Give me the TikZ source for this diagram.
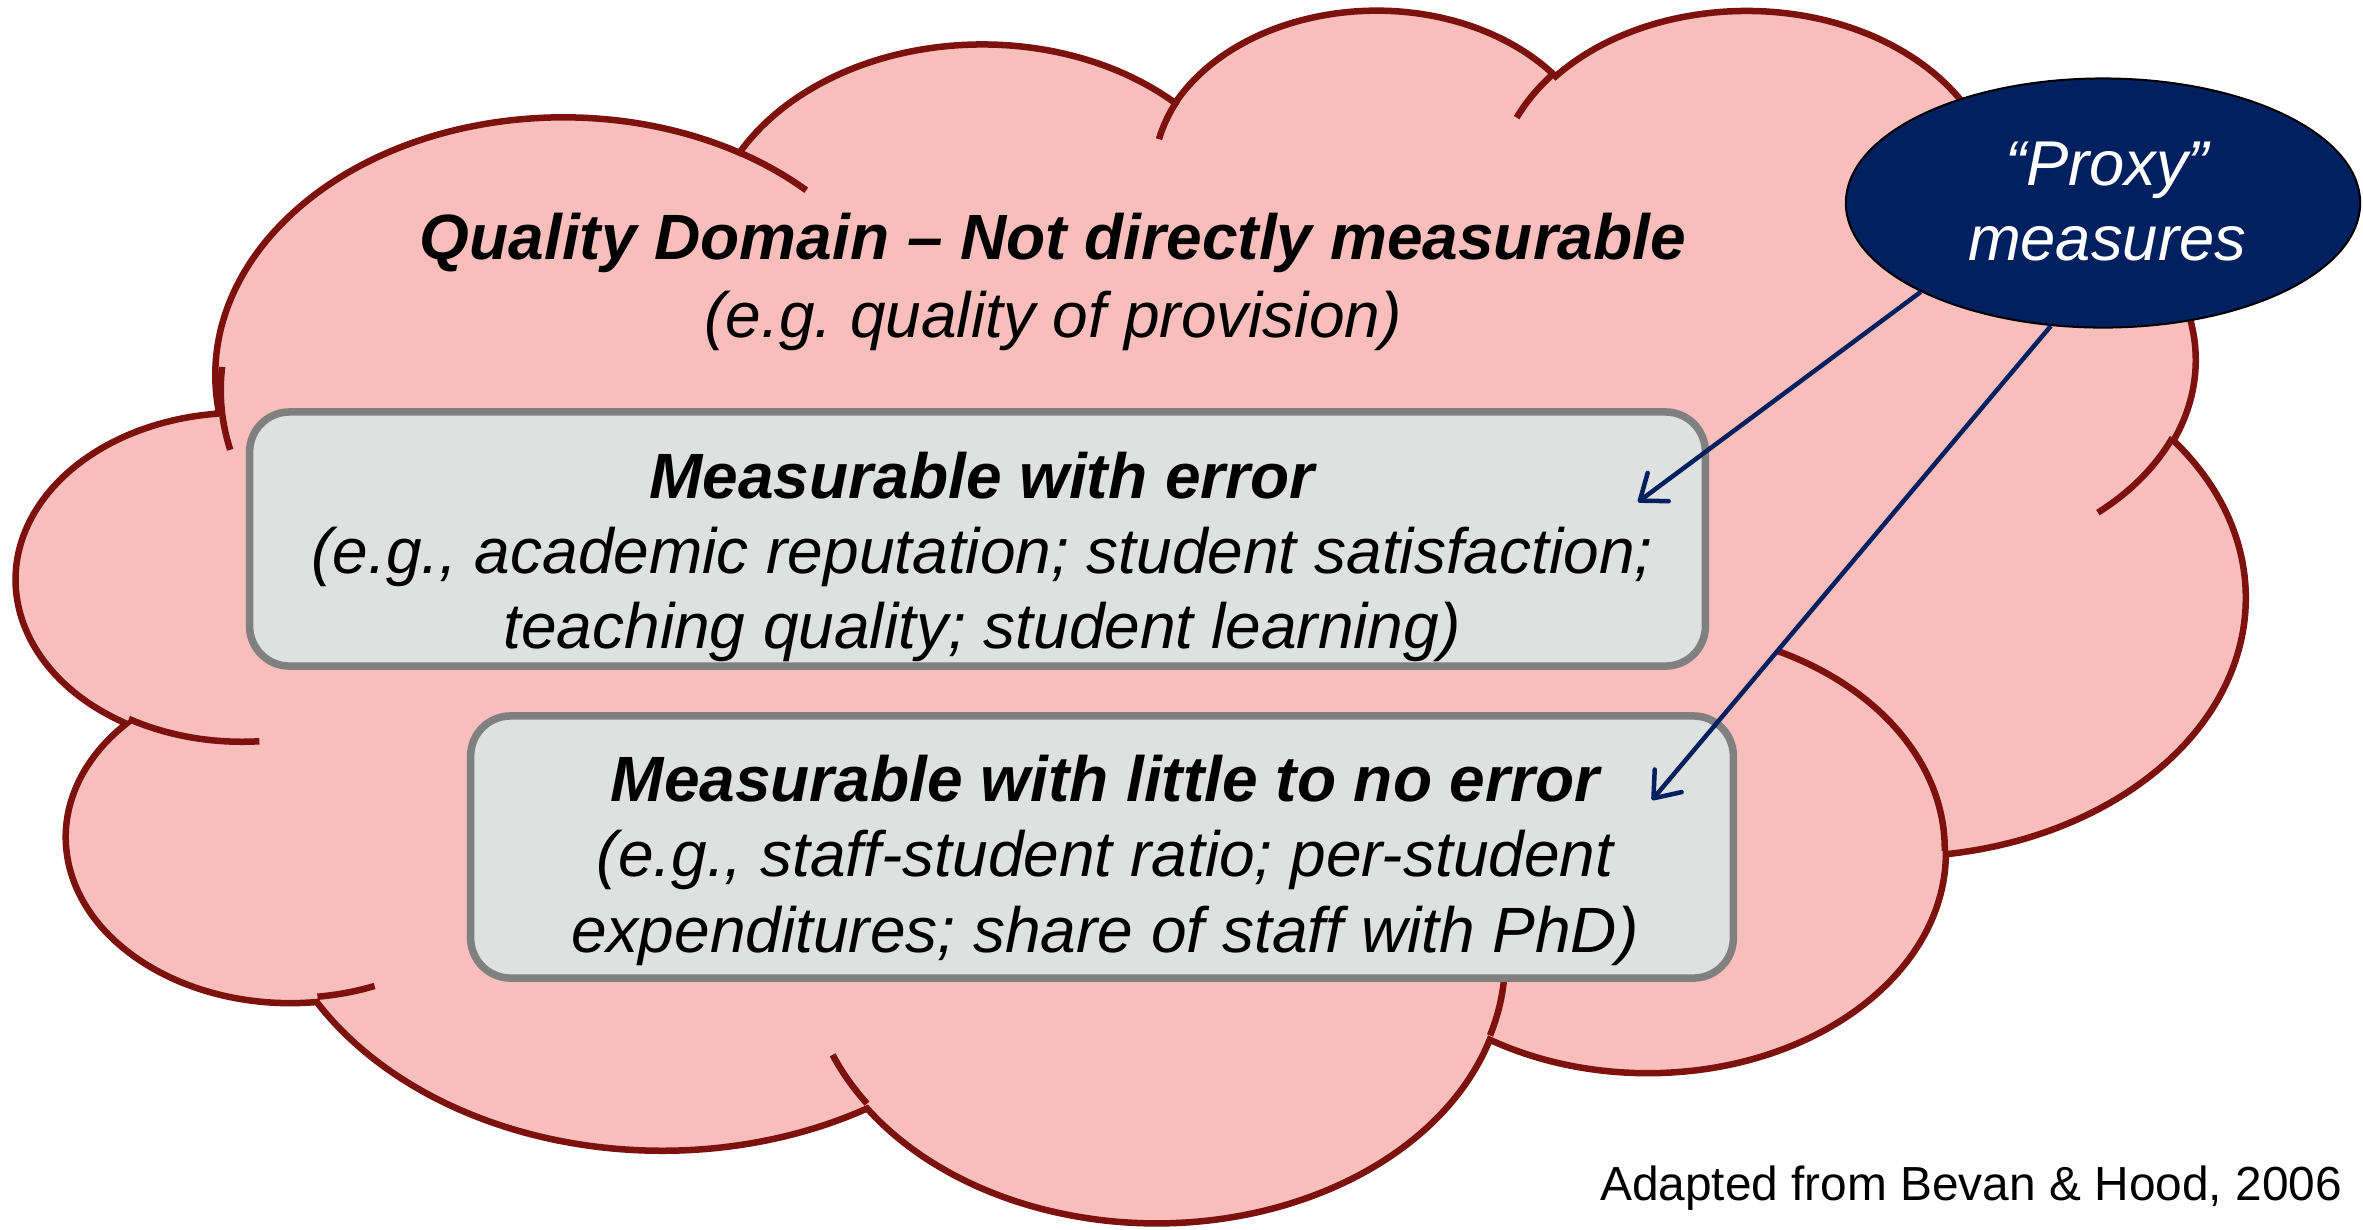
\documentclass[tikz,border=0pt]{standalone}
\usepackage{fontspec}
\setmainfont{Liberation Sans}
\usetikzlibrary{shapes.geometric,arrows.meta}
\frenchspacing

\definecolor{cloudpink}{RGB}{247,190,188}
\definecolor{cloudred}{RGB}{125,17,14}
\definecolor{boxgray}{RGB}{223,224,224}
\definecolor{boxedge}{RGB}{128,128,128}
\definecolor{proxynavy}{RGB}{0,32,96}

% One elliptic arc of the cloud outline.
% #1 name, #2 x radius, #3 y radius, #4 start angle, #5 sweep
% (angles are visual directions from the centre; converted to
% the parametric angles that TikZ's arc expects)
\newcommand\defcloudarc[5]{%
  \pgfmathsetmacro\cldS{atan2((#2)*sin(#4),(#3)*cos(#4))}%
  \pgfmathsetmacro\cldE{atan2((#2)*sin((#4)+(#5)),(#3)*cos((#4)+(#5)))}%
  \pgfmathsetmacro\cldD{Mod(\cldE-\cldS,360)}%
  \expandafter\xdef\csname cloudarc#1\endcsname{arc[x radius=#2,y radius=#3,start angle=\cldS,delta angle=\cldD]}%
}
% outline lobes
\defcloudarc{A}{6.753}{9.190}{-190.4875}{123.7805}
\defcloudarc{B}{5.333}{7.267}{-144.1024}{89.9452}
\defcloudarc{C}{4.365}{5.945}{-145.8079}{99.7230}
\defcloudarc{D}{4.857}{6.595}{-130.9861}{117.2417}
\defcloudarc{E}{5.333}{7.273}{-78.7089}{109.0269}
\defcloudarc{F}{6.775}{9.220}{-46.2673}{130.2690}
\defcloudarc{G}{5.785}{7.867}{0.6250}{114.0333}
\defcloudarc{H}{6.752}{9.215}{22.4516}{115.1726}
\defcloudarc{I}{7.720}{10.543}{66.2426}{75.7110}
\defcloudarc{J}{4.360}{5.918}{-274.9421}{146.7356}
\defcloudarc{K}{4.345}{5.945}{-246.8285}{152.5189}
% inner creases
\defcloudarc{L}{4.345}{5.945}{86.7420}{26.4295}
\defcloudarc{M}{4.360}{5.918}{73.6105}{11.4475}
\defcloudarc{N}{6.752}{9.215}{137.6242}{14.0811}
\defcloudarc{O}{6.752}{9.215}{6.4533}{15.9984}
\defcloudarc{P}{5.785}{7.867}{-70.2924}{70.9174}
\defcloudarc{Q}{5.333}{7.273}{30.3180}{27.7515}
\defcloudarc{R}{4.857}{6.595}{-13.7443}{14.8589}
\defcloudarc{S}{4.857}{6.595}{-149.1815}{18.1954}
\defcloudarc{T}{4.365}{5.945}{-163.4943}{17.6864}
\defcloudarc{U}{6.753}{9.190}{-66.7070}{12.3194}
\defcloudarc{V}{6.753}{9.190}{162.0477}{24.9311}

\begin{document}
\begin{tikzpicture}[x=0.01cm,y=-0.01cm,
  cloudshape/.style={fill=cloudpink,draw=cloudred,line width=0.065cm},
  cloudcrease/.style={draw=cloudred,line width=0.065cm},
  examplebox/.style={draw=boxedge,fill=boxgray,line width=0.075cm,
    rounded corners=0.4cm,inner sep=0pt},
  txt/.style={anchor=base,inner sep=0pt,font=\fontsize{18.2}{21}\selectfont},
  head/.style={txt,font=\fontsize{18.2}{21}\selectfont\bfseries\itshape},
  note/.style={txt,font=\fontsize{18.2}{21}\selectfont\itshape},
  proxytext/.style={txt,text=white,font=\fontsize{18}{21}\selectfont\itshape},
  proxyarrow/.style={draw=proxynavy,line width=0.045cm,
    -{Straight Barb[length=6.5pt,width=10pt,round]}},
]
\useasboundingbox (0,0) rectangle (2363,1229);

% the cloud
\begin{scope}[x=1cm,y=1cm,shift={(0.174cm,-0.067cm)},xscale=0.5153,yscale=-0.28044]
  \filldraw[cloudshape] (3.900,14.370) \cloudarcA \cloudarcB \cloudarcC
    \cloudarcD \cloudarcE \cloudarcF \cloudarcG \cloudarcH \cloudarcI
    \cloudarcJ \cloudarcK -- cycle;
  \draw[cloudcrease]
    (4.693,26.177) \cloudarcL
    (6.928,34.899) \cloudarcM
    (16.478,39.090) \cloudarcN
    (28.827,34.751) \cloudarcO
    (34.129,22.954) \cloudarcP
    (41.798,15.354) \cloudarcQ
    (38.324,5.426) \cloudarcR
    (29.078,3.952) \cloudarcS
    (22.141,4.720) \cloudarcT
    (14.000,5.192) \cloudarcU
    (4.127,15.789) \cloudarcV;
\end{scope}

% heading of the domain
\node[head] (qtitle) at (1053,259) {Quality Domain – Not directly measurable};
\node[note] (qnote) at (1053,337) {(e.g. quality of provision)};

% measurable with error
\node[examplebox,minimum width=14.55cm,minimum height=2.54cm] (errbox) at (977.5,539) {};
\node[head] (errhead) at (982,498) {Measurable with error};
\node[note] (errlineA) at (982,573) {(e.g., academic reputation; student satisfaction;};
\node[note] (errlineB) at (982,648) {teaching quality; student learning)};

% measurable with little to no error
\node[examplebox,minimum width=12.62cm,minimum height=2.62cm] (exbox) at (1102,847) {};
\node[head] (exhead) at (1105,801) {Measurable with little to no error};
\node[note] (exlineA) at (1105,876) {(e.g., staff-student ratio; per-student};
\node[note] (exlineB) at (1105,952) {expenditures; share of staff with PhD)};

% proxy measures
\node[ellipse,draw=black,line width=0.02cm,fill=proxynavy,
  minimum width=5.14cm,minimum height=2.49cm,inner sep=0pt] (proxy) at (2103,203) {};
\node[proxytext] (proxyA) at (2107,185) {“Proxy”};
\node[proxytext] (proxyB) at (2107,260) {measures};
\coordinate (tipA) at (1638,502);
\coordinate (tipB) at (1652,800);
\draw[proxyarrow] (proxy.206) -- (tipA);
\draw[proxyarrow] (proxy.247) -- (tipB);

% source
\node[anchor=base,inner sep=0pt,font=\fontsize{13.6}{16}\selectfont] (credit)
  at (1971,1200) {Adapted from Bevan \& Hood, 2006};
\end{tikzpicture}
\end{document}
